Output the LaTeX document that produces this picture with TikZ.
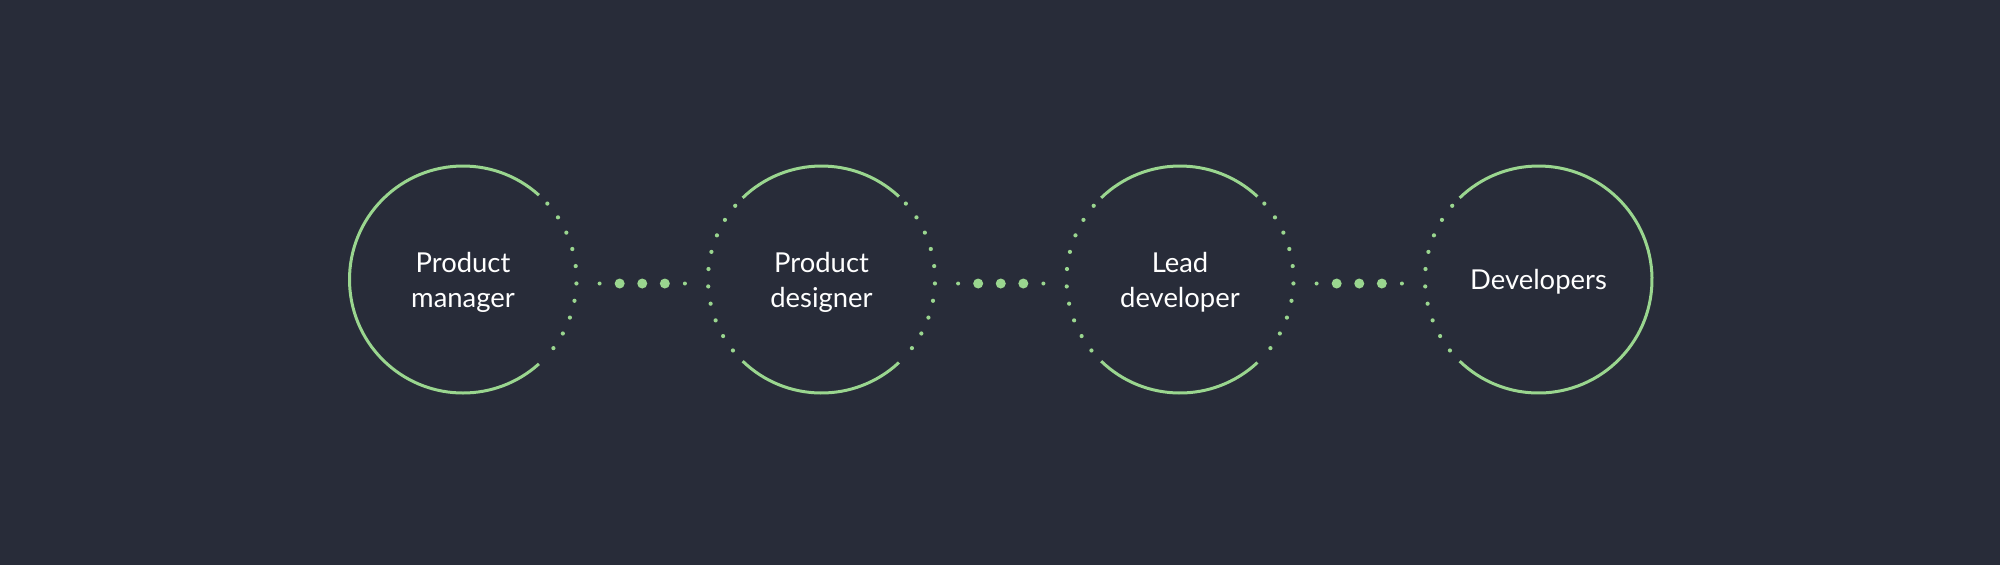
\documentclass[tikz,border=0pt]{standalone}
\usepackage{fontspec}
\setmainfont{Lato}
\usetikzlibrary{positioning,calc}
\definecolor{bg}{HTML}{282C39}
\definecolor{mint}{HTML}{9AD68F}

\begin{document}
\begin{tikzpicture}[
    stage/.style={circle, minimum size=2.27cm, inner sep=0pt, outer sep=0pt},
    caption/.style={text=white, align=center, inner sep=0pt,
      font=\fontsize{7.8pt}{10pt}\selectfont, yshift=-0.027cm},
    ring/.style={draw=mint, line width=0.03cm},
    node distance=1.315cm
  ]
  \fill[bg] (0,0) rectangle (20,-5.65);

  \node[stage] (pm) at (4.63,-2.795) {};
  \node[stage, right=of pm] (pd) {};
  \node[stage, right=of pd] (ld) {};
  \node[stage, right=of ld] (dev) {};

  \node[caption] (pmtext) at (pm) {Product\\manager};
  \node[caption] (pdtext) at (pd) {Product\\designer};
  \node[caption] (ldtext) at (ld) {Lead\\developer};
  \node[caption] (devtext) at (dev) {Developers};

  \draw[ring] (pm.48) arc[start angle=48, end angle=312, radius=1.135];
  \foreach \n in {pd, ld} {
    \draw[ring] (\n.47) arc[start angle=47, end angle=134, radius=1.135];
    \draw[ring] (\n.226) arc[start angle=226, end angle=313, radius=1.135];
  }
  \draw[ring] (dev.226) arc[start angle=-134, end angle=134, radius=1.135];

  \foreach \n in {pm, pd, ld}
    \foreach \t in {42,33.2,...,-38}
      \fill[mint] (\n.center) ++(\t:1.135) circle (0.021);
  \foreach \n in {pd, ld, dev}
    \foreach \t in {139.5,148.3,...,219}
      \fill[mint] (\n.center) ++(\t:1.135) circle (0.021);

  \foreach \a/\b in {pm/pd, pd/ld, ld/dev}
    \foreach \p/\r in {0.381/0.02, 0.437/0.05, 0.5/0.05, 0.563/0.05, 0.619/0.02}
      \fill[mint] ($(\a)!\p!(\b)+(0,-0.04)$) circle (\r);
\end{tikzpicture}
\end{document}
